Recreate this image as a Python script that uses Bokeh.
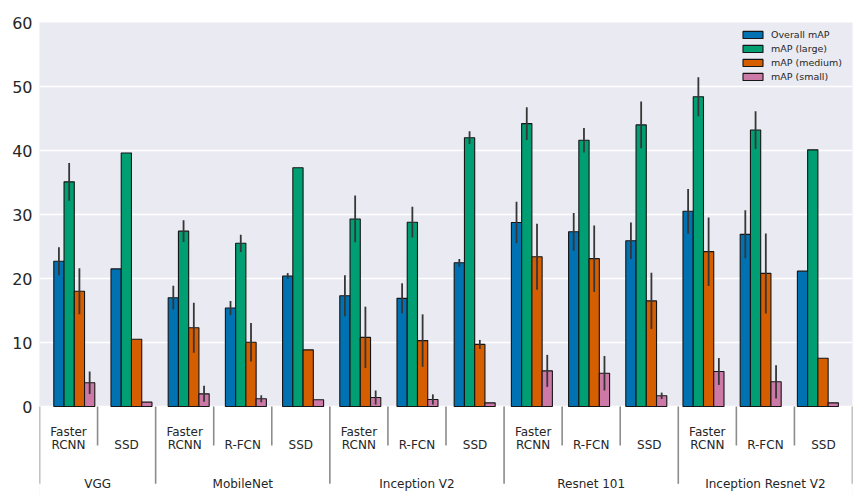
from bokeh.plotting import figure
from bokeh.models import Range1d, FixedTicker, ColumnDataSource
from bokeh.embed import file_html
from bokeh.resources import INLINE
from bokeh.core.properties import value

# ---------------- data ----------------
backbones = ["VGG", "MobileNet", "Inception V2", "Resnet 101", "Inception Resnet V2"]
meta_archs = [
    ["Faster RCNN", "SSD"],
    ["Faster RCNN", "R-FCN", "SSD"],
    ["Faster RCNN", "R-FCN", "SSD"],
    ["Faster RCNN", "R-FCN", "SSD"],
    ["Faster RCNN", "R-FCN", "SSD"],
]
series_names = ["Overall mAP", "mAP (large)", "mAP (medium)", "mAP (small)"]

overall = [22.7, 21.5, 17.0, 15.4, 20.4, 17.3, 16.9, 22.45, 28.75, 27.3, 25.9, 30.5, 26.9, 21.15]
overall_err = [2.2, 0, 1.85, 1.1, 0.45, 3.2, 2.35, 0.6, 3.25, 2.95, 2.85, 3.5, 3.75, 0]
large = [35.1, 39.6, 27.4, 25.5, 37.3, 29.3, 28.8, 42.0, 44.2, 41.6, 44.0, 48.4, 43.2, 40.1]
large_err = [2.95, 0, 1.7, 1.35, 0, 3.65, 2.4, 1.0, 2.55, 1.9, 3.65, 3.05, 2.95, 0]
medium = [18.0, 10.5, 12.3, 10.05, 8.85, 10.8, 10.3, 9.7, 23.4, 23.1, 16.5, 24.2, 20.8, 7.55]
medium_err = [3.6, 0, 3.9, 3.0, 0, 4.8, 4.1, 0.7, 5.15, 5.2, 4.4, 5.35, 6.25, 0]
small = [3.7, 0.68, 1.98, 1.2, 1.05, 1.4, 1.1, 0.57, 5.57, 5.2, 1.67, 5.47, 3.86, 0.57]
small_err = [1.75, 0, 1.25, 0.55, 0, 1.1, 0.8, 0, 2.5, 2.7, 0.5, 2.1, 2.6, 0]

y_ticks = [0, 10, 20, 30, 40, 50, 60]

# ---------------- styling / layout ----------------
colors = ["#0072B2", "#009E73", "#D55E00", "#CC79A7"]
FONT = "DejaVu Sans"
TXT = "#262626"
n_slots = sum(len(m) for m in meta_archs)

Y_BOTTOM = -14.0625
p = figure(width=863, height=496,
           x_range=Range1d(0, n_slots), y_range=Range1d(Y_BOTTOM, 60),
           output_backend="svg", toolbar_location=None, x_axis_location=None,
           min_border_left=39, min_border_right=11, min_border_top=22, min_border_bottom=0)
p.background_fill_color = "#EAEAF2"
p.border_fill_color = "white"
p.outline_line_color = None
p.xgrid.visible = False
p.ygrid.ticker = FixedTicker(ticks=y_ticks)
p.ygrid.grid_line_color = "white"
p.ygrid.grid_line_width = 1.3
p.yaxis.ticker = FixedTicker(ticks=y_ticks)
p.yaxis.axis_line_color = None
p.yaxis.major_tick_line_color = None
p.yaxis.minor_tick_line_color = None
p.yaxis.major_tick_in = 0
p.yaxis.major_tick_out = 0
p.yaxis.major_label_standoff = 7
p.yaxis.major_label_text_font_size = "16px"
p.yaxis.major_label_text_font = FONT
p.yaxis.major_label_text_color = TXT

# white area below the zero line (label area)
p.quad(left=[-1], right=[n_slots + 1], bottom=[Y_BOTTOM - 5], top=[0],
       fill_color="white", line_color=None)

# bars
values = [overall, large, medium, small]
errors = [overall_err, large_err, medium_err, small_err]
BW = 0.1765
G0 = 0.246
GSTEP = 0.985
for j, (vals, errs, name, col) in enumerate(zip(values, errors, series_names, colors)):
    xs = [G0 + i * GSTEP + (j + 0.5) * BW for i in range(len(vals))]
    src = ColumnDataSource(dict(x=xs, top=vals))
    p.vbar(x="x", top="top", width=BW, bottom=0, source=src,
           fill_color=col, line_color="#151515", line_width=1.1, legend_label=name)
    ex, elo, ehi = [], [], []
    for x, v, e in zip(xs, vals, errs):
        if e > 0:
            ex.append(x); elo.append(v - e); ehi.append(v + e)
    p.segment(x0=ex, y0=elo, x1=ex, y1=ehi, line_color="#363636", line_width=1.8)

# category labels and separators
SUB_BOTTOM = -6.09
GRP_BOTTOM = -12.08
sub_x, line1, line2 = [], [], []
grp_x, grp_lbl = [], []
sep_x, sep_y = [], []
k = 0
for b, metas in zip(backbones, meta_archs):
    sep_x.append(k); sep_y.append(GRP_BOTTOM)
    for mi, m in enumerate(metas):
        if mi > 0:
            sep_x.append(k); sep_y.append(SUB_BOTTOM)
        words = m.split(" ")
        sub_x.append(k + 0.5)
        line1.append(words[0] if len(words) > 1 else "")
        line2.append(words[-1])
        k += 1
    grp_x.append(k - len(metas) / 2)
    grp_lbl.append(b)
sep_x.append(k); sep_y.append(GRP_BOTTOM)

p.segment(x0=sep_x, y0=[0] * len(sep_x), x1=sep_x, y1=sep_y,
          line_color="#8c8c8c", line_width=1.6)

common = dict(text_align="center", text_baseline="alphabetic",
              text_font=value(FONT), text_font_size="12px", text_color=TXT)
p.text(x=sub_x, y=[-4.06] * len(sub_x), text=line1, **common)
p.text(x=sub_x, y=[SUB_BOTTOM] * len(sub_x), text=line2, **common)
p.text(x=grp_x, y=[GRP_BOTTOM] * len(grp_x), text=grp_lbl, **common)

# legend
lg = p.legend[0]
lg.location = (701, 414)
lg.padding = 0
lg.margin = 0
lg.spacing = 3
lg.glyph_width = 25
lg.glyph_height = 9
lg.label_height = 11
lg.label_standoff = 6
lg.label_text_font = FONT
lg.label_text_font_size = "9.5px"
lg.label_text_color = TXT
lg.background_fill_alpha = 0
lg.border_line_color = None

open("out.html", "w").write(file_html(p, INLINE))
